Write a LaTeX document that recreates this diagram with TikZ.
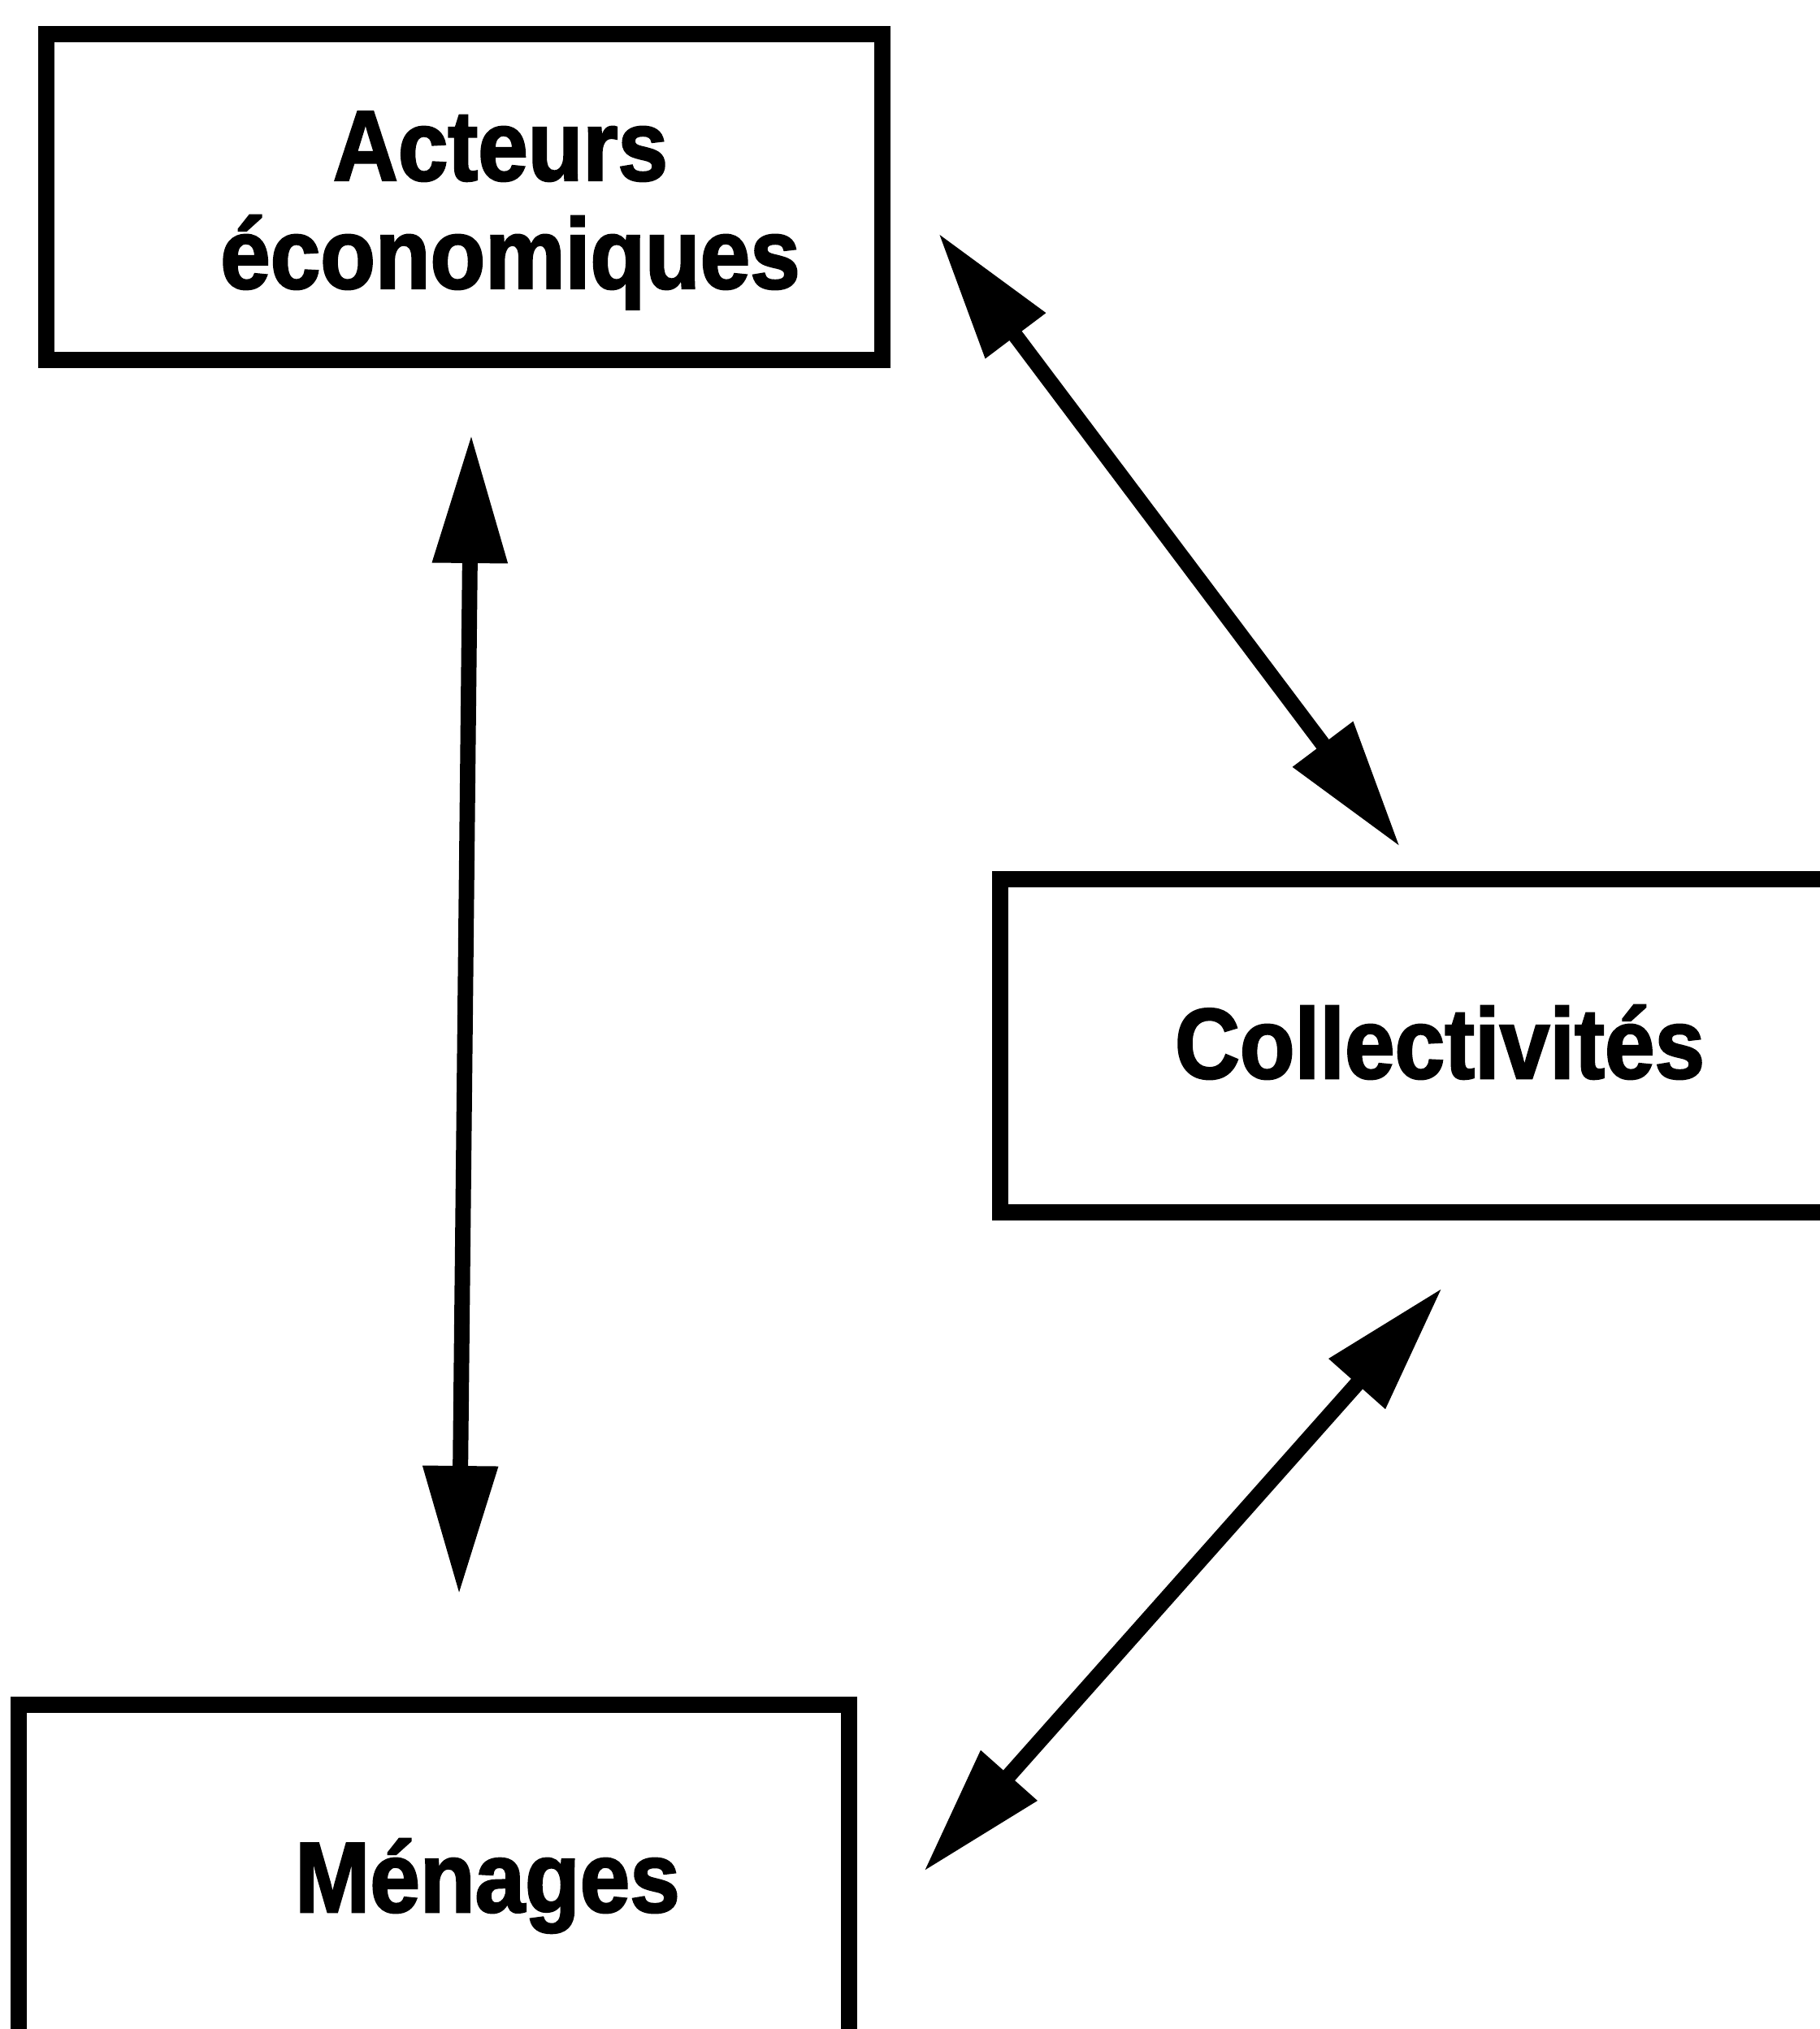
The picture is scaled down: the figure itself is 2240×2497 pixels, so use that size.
\documentclass[tikz,border=0pt]{standalone}
\usepackage{fontspec}
\setmainfont{Liberation Sans}[FakeStretch=0.9,FakeBold=2]
\usetikzlibrary{arrows.meta}
\tikzset{
  box/.style={draw=black, line width=20pt, rectangle, inner sep=0pt, fill=none},
  lbl/.style={font=\fontsize{123pt}{146pt}\selectfont\bfseries, inner sep=0pt, anchor=base, text=black},
  dbl/.style={line width=19pt, {Triangle[length=158pt,width=88pt]}-{Triangle[length=158pt,width=88pt]}}
}
\begin{document}
\begin{tikzpicture}[x=1pt,y=-1pt]
\useasboundingbox (0,0) rectangle (2240,2497);
\clip (0,0) rectangle (2240,2497);
\fill[white] (0,0) rectangle (2240,2497);
% boxes
\node[box, minimum width=1029pt, minimum height=401pt] (acteurs) at (571.5,242.5) {};
\node[box, minimum width=1049pt, minimum height=410pt] (collect) at (1755.5,1287) {};
\node[box, minimum width=1022pt, minimum height=412pt] (menages) at (534,2304) {};
% labels
\node[lbl] (t1) at (616,222) {Acteurs};
\node[lbl] (t2) at (628,355) {économiques};
\node[lbl] (t3) at (1772,1327) {Collectivités};
\node[lbl] (t4) at (600,2353) {Ménages};
% arrow end points
\coordinate (v1) at (580,535);
\coordinate (v2) at (565,1962);
\coordinate (d1) at (1155,287);
\coordinate (d2) at (1723,1042);
\coordinate (e1) at (1775,1585);
\coordinate (e2) at (1137,2303);
\draw[dbl] (v1) -- (v2);
\draw[dbl] (d1) -- (d2);
\draw[dbl] (e1) -- (e2);
\end{tikzpicture}
\end{document}
